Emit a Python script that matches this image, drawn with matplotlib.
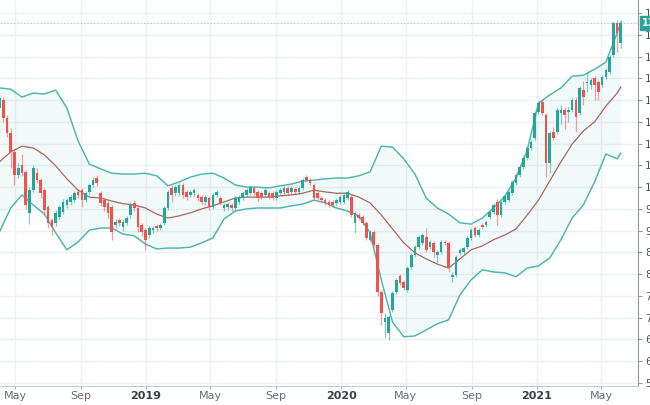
import numpy as np
import pandas as pd
import matplotlib
matplotlib.use("Agg")
import matplotlib.pyplot as plt
import matplotlib.dates as mdates

# ---------------- data (weekly candles) ----------------
first_week = "2018-04-02"

open_ = [118.2, 120.0, 115.9, 112.4, 108.1, 102.8, 105.1, 103.5, 94.1, 99.3,
         103.2, 101.6, 99.3, 95.4, 92.4, 91.8, 93.1, 94.3, 95.9, 96.6,
         97.0, 98.9, 99.3, 97.0, 98.9, 100.5, 102.1, 98.6, 97.0, 96.3,
         95.4, 91.3, 92.4, 90.8, 91.8, 93.6, 96.4, 95.2, 91.3, 90.1,
         89.0, 90.1, 91.1, 90.6, 91.8, 95.2, 99.8, 98.6, 98.6, 100.5,
         98.9, 98.2, 98.6, 98.2, 97.7, 96.6, 97.5, 95.4, 98.2, 97.5,
         95.2, 95.4, 95.9, 95.2, 96.6, 97.5, 98.2, 98.6, 99.8, 98.9,
         98.6, 98.2, 98.6, 98.6, 97.5, 98.6, 98.9, 99.8, 98.9, 99.6,
         98.9, 99.8, 102.3, 101.6, 100.5, 98.6, 97.5, 97.0, 96.6, 96.6,
         96.4, 96.6, 96.6, 97.5, 97.7, 91.8, 93.6, 93.1, 91.8, 87.9,
         89.7, 86.7, 75.9, 69.0, 66.5, 71.8, 75.9, 79.6, 78.2, 76.4,
         81.6, 84.4, 86.2, 87.2, 88.5, 86.2, 87.2, 84.4, 85.1, 87.4,
         87.2, 79.4, 79.8, 84.9, 85.1, 86.2, 88.3, 90.6, 89.0, 91.3,
         91.3, 93.1, 94.3, 96.6, 93.6, 96.6, 97.0, 98.6, 100.9, 102.8,
         104.6, 106.7, 109.0, 111.3, 117.2, 119.6, 116.6, 105.5, 112.7, 112.7,
         117.0, 117.7, 117.2, 117.7, 120.0, 117.0, 122.3, 123.9, 123.5, 125.1,
         124.1, 123.5, 125.3, 126.4, 130.4, 137.7, 133.1]

high = [121.5, 120.8, 116.5, 113.5, 108.8, 105.5, 107.5, 104.0, 100.0, 105.0,
        104.3, 102.0, 99.8, 96.0, 93.0, 94.8, 96.0, 97.2, 97.6, 98.3,
        99.2, 99.5, 99.8, 99.0, 101.0, 102.3, 102.8, 99.2, 97.6, 96.8,
        96.0, 92.6, 93.0, 92.6, 93.4, 96.5, 97.0, 95.8, 91.8, 90.6,
        91.1, 91.1, 91.5, 91.8, 95.6, 99.3, 100.4, 100.6, 101.0, 101.0,
        99.4, 99.4, 99.8, 98.7, 98.2, 98.2, 98.0, 98.7, 99.4, 98.0,
        96.4, 96.6, 96.4, 98.0, 98.2, 99.1, 99.8, 100.5, 100.3, 99.4,
        99.1, 99.8, 99.1, 99.1, 99.4, 99.8, 100.3, 100.3, 100.3, 100.1,
        100.3, 102.1, 102.8, 102.1, 101.0, 99.1, 98.0, 97.5, 97.1, 97.1,
        97.5, 98.2, 98.7, 99.3, 98.2, 94.6, 94.1, 93.6, 92.3, 90.2,
        90.2, 87.2, 76.4, 71.1, 70.7, 76.2, 79.2, 80.1, 78.7, 81.9,
        84.9, 86.7, 89.0, 89.5, 90.6, 87.9, 87.7, 85.6, 87.9, 87.9,
        87.7, 80.5, 84.4, 86.1, 86.5, 88.8, 90.6, 91.1, 90.6, 91.8,
        92.5, 94.8, 96.4, 97.2, 97.1, 98.4, 99.4, 101.7, 103.3, 105.1,
        107.2, 109.5, 110.9, 117.5, 119.8, 120.2, 117.1, 113.0, 113.8, 118.2,
        118.9, 118.4, 118.3, 120.5, 120.6, 123.3, 124.3, 126.4, 125.1, 125.6,
        124.6, 125.8, 127.4, 130.4, 138.2, 138.3, 138.5]

low = [117.5, 115.0, 111.5, 104.5, 100.5, 102.0, 102.5, 95.0, 91.5, 98.8,
       101.0, 97.5, 93.8, 90.5, 89.0, 91.0, 92.5, 93.8, 95.2, 96.0,
       96.5, 97.6, 95.5, 96.5, 98.3, 100.0, 100.3, 95.6, 94.6, 93.0,
       87.9, 90.6, 91.0, 90.0, 91.2, 93.0, 94.6, 89.8, 88.8, 85.6,
       88.2, 89.5, 90.0, 90.1, 91.4, 94.8, 96.5, 98.0, 98.0, 97.5,
       97.0, 97.7, 98.0, 96.8, 96.0, 96.0, 94.8, 95.0, 97.7, 95.8,
       94.4, 94.8, 94.6, 94.6, 96.1, 97.0, 97.7, 98.1, 98.1, 96.9,
       97.2, 97.7, 97.2, 97.0, 97.0, 98.1, 98.4, 98.1, 98.4, 98.4,
       98.4, 99.3, 101.1, 100.4, 97.0, 97.0, 96.5, 95.9, 95.4, 95.4,
       95.9, 96.1, 96.1, 97.0, 93.1, 89.5, 92.4, 91.3, 87.8, 87.4,
       86.2, 75.0, 68.3, 65.3, 64.9, 71.3, 75.4, 77.5, 76.4, 75.9,
       81.1, 83.9, 85.7, 86.7, 85.1, 85.7, 84.0, 82.6, 84.6, 86.7,
       80.5, 78.2, 79.3, 84.4, 84.6, 85.7, 87.8, 88.5, 88.5, 90.3,
       90.8, 92.6, 93.8, 91.3, 93.1, 96.1, 96.5, 98.1, 100.4, 102.3,
       104.1, 106.2, 108.5, 110.8, 116.7, 116.5, 102.3, 103.2, 110.8, 112.2,
       114.6, 113.3, 115.0, 117.2, 112.6, 116.5, 118.9, 121.9, 122.5, 120.0,
       120.0, 123.0, 124.8, 125.9, 129.9, 131.0, 132.0]

close = [120.5, 115.9, 112.4, 108.1, 102.8, 104.4, 103.2, 95.9, 99.3, 104.4,
         101.6, 98.6, 94.7, 91.8, 90.8, 94.1, 95.4, 96.6, 97.0, 97.7,
         98.6, 98.2, 97.0, 98.6, 100.5, 101.6, 100.9, 96.3, 95.4, 94.1,
         89.7, 92.0, 91.8, 92.0, 92.9, 95.9, 95.2, 90.8, 89.7, 87.9,
         90.6, 90.6, 90.6, 91.3, 95.2, 98.9, 98.2, 100.0, 100.5, 98.2,
         97.7, 98.9, 99.3, 97.5, 96.6, 97.7, 95.4, 98.2, 98.9, 96.4,
         95.9, 96.1, 95.2, 97.5, 97.7, 98.6, 99.3, 100.0, 98.6, 97.5,
         97.7, 99.3, 97.7, 97.5, 98.9, 99.3, 99.8, 98.6, 99.8, 98.9,
         99.8, 101.6, 101.6, 100.9, 97.5, 97.5, 97.0, 96.4, 95.9, 95.9,
         97.0, 97.7, 98.2, 98.9, 93.6, 94.1, 92.9, 91.8, 88.3, 89.7,
         86.7, 75.9, 71.1, 69.9, 70.2, 75.7, 78.7, 78.0, 76.8, 81.4,
         84.4, 86.2, 88.5, 89.0, 85.6, 87.4, 85.1, 85.1, 87.4, 87.2,
         81.6, 79.8, 84.0, 85.6, 86.0, 88.3, 90.1, 89.0, 90.1, 90.8,
         92.0, 94.3, 95.9, 93.6, 96.6, 97.9, 98.9, 101.2, 102.8, 104.6,
         106.7, 109.0, 110.4, 117.0, 119.3, 117.0, 105.5, 112.4, 111.3, 117.7,
         117.7, 116.6, 117.7, 120.0, 116.1, 122.8, 120.7, 124.1, 124.6, 123.5,
         121.9, 125.3, 126.9, 129.9, 137.7, 135.4, 137.7]

band_weeks = list(range(0, 166, 3)) + [166]
bb_upper = [122.8, 122.5, 120.7, 121.6, 121.4, 122.3, 118.2, 110.6, 105.3, 104.2,
            103.2, 103.0, 103.0, 103.2, 102.6, 100.3, 101.2, 102.3, 103.0, 103.2,
            102.1, 100.5, 100.0, 100.0, 99.8, 100.3, 100.7, 101.4, 101.6, 101.9,
            102.1, 102.1, 102.6, 103.5, 109.4, 109.2, 106.5, 103.0, 97.5, 95.2,
            93.8, 91.8, 91.5, 92.9, 95.2, 97.9, 102.1, 108.5, 119.3, 121.2,
            122.8, 125.5, 125.7, 127.1, 128.7, 135.4, 137.9]
bb_middle = [105.8, 108.1, 109.4, 109.0, 107.4, 104.9, 101.9, 99.3, 97.7, 97.5,
             96.8, 96.2, 95.9, 95.2, 93.8, 92.9, 93.4, 94.1, 95.0, 95.7,
             96.6, 97.5, 97.7, 97.7, 97.7, 98.0, 98.2, 98.6, 99.3, 98.9,
             98.6, 98.6, 97.7, 96.4, 93.6, 90.4, 87.2, 84.9, 83.5, 82.3,
             81.4, 83.5, 85.6, 86.5, 87.9, 89.0, 90.4, 93.6, 97.0, 101.4,
             105.8, 109.9, 112.9, 115.0, 118.6, 121.6, 123.0]
bb_lower = [89.7, 95.2, 98.2, 95.9, 93.8, 89.5, 85.6, 87.4, 90.1, 90.6,
            90.6, 89.2, 88.8, 86.9, 85.8, 86.0, 86.0, 86.2, 87.2, 88.3,
            92.7, 94.5, 95.0, 95.2, 95.2, 95.2, 95.7, 96.1, 97.0, 96.4,
            95.2, 94.5, 93.4, 89.5, 78.7, 69.0, 65.6, 65.8, 67.2, 68.6,
            69.5, 75.2, 78.7, 81.0, 80.5, 80.3, 79.4, 81.4, 81.9, 83.7,
            87.9, 92.9, 95.9, 101.2, 107.6, 106.5, 107.8]

price_ticks = list(range(55, 141, 5))
month_ticks = ["2018-05-01", "2018-09-01", "2019-01-01", "2019-05-01", "2019-09-01",
               "2020-01-01", "2020-05-01", "2020-09-01", "2021-01-01", "2021-05-01"]
month_labels = ["May", "Sep", "2019", "May", "Sep", "2020", "May", "Sep", "2021", "May"]

# ---------------- styling ----------------
UP = "#26a69a"
DOWN = "#ef5350"
BAND = "#4db6ac"
BASIS = "#a8675f"
GRID = "#eef1f5"

o = np.array(open_); h = np.array(high); l = np.array(low); c = np.array(close)
dates = pd.date_range(first_week, periods=len(c), freq="7D")
dnum = mdates.date2num(dates)
band_x = dnum[band_weeks]

fig = plt.figure(figsize=(6.5, 4.05), dpi=100)
ax = fig.add_axes([0, 19 / 405, 638 / 650, 386 / 405])

# x range: May 1 2018 sits at 15 px, 0.5347 px per day
may18 = mdates.date2num(pd.Timestamp("2018-05-01"))
pxd = 0.5347
ax.set_xlim(may18 - 15 / pxd, may18 + 623 / pxd)
ax.set_ylim(54.3, 143.0)

# grid
ax.set_yticks(price_ticks)
ax.set_yticklabels([f"{v:.2f}" for v in price_ticks])
tick_x = mdates.date2num(pd.to_datetime(month_ticks))
ax.set_xticks(tick_x)
ax.set_xticklabels(month_labels)
ax.grid(True, color=GRID, lw=1.0, zorder=0)
ax.set_axisbelow(True)

# bands
ax.fill_between(band_x, bb_lower, bb_upper, color=UP, alpha=0.06, lw=0, zorder=1)
ax.plot(band_x, bb_upper, color=BAND, lw=1.05, zorder=2, solid_joinstyle="round")
ax.plot(band_x, bb_lower, color=BAND, lw=1.05, zorder=2, solid_joinstyle="round")
ax.plot(band_x, bb_middle, color=BASIS, lw=0.9, zorder=2, solid_joinstyle="round")

# candles
colors = np.where(c >= o, UP, DOWN)
ax.vlines(dnum, l, h, colors=colors, lw=0.9, alpha=0.55, zorder=3)
body = np.maximum(np.abs(c - o), 0.3)
ax.bar(dnum, body, bottom=np.minimum(o, c), width=5.0, color=colors, lw=0, zorder=4)

# last price line + label
last = close[-1]
ax.axhline(last, color=UP, lw=0.8, ls=(0, (1.5, 1.5)), alpha=0.45, zorder=1)
ax.text(1.006, last, f"{last:.2f}", transform=ax.get_yaxis_transform(),
        ha="left", va="center", fontsize=7, color="white", fontweight="bold",
        bbox=dict(boxstyle="square,pad=0.2", fc=UP, ec=UP), clip_on=False, zorder=10)

# axes styling
for s in ["top", "left"]:
    ax.spines[s].set_visible(False)
ax.spines["right"].set_color("#9598a1")
ax.spines["bottom"].set_color("#c8cbd1")
ax.yaxis.tick_right()
ax.tick_params(axis="y", length=3, width=0.8, color="#9598a1", pad=2,
               labelsize=7.5, labelcolor="#4a4d56")
ax.tick_params(axis="x", length=2.5, width=0.8, color="#b2b5be", pad=1.2,
               labelsize=8, labelcolor="#6a6d78")
for lab in ax.get_xticklabels():
    if lab.get_text().isdigit():
        lab.set_fontweight("bold")
        lab.set_color("#3a3d46")

fig.savefig("out.png", dpi=100)
